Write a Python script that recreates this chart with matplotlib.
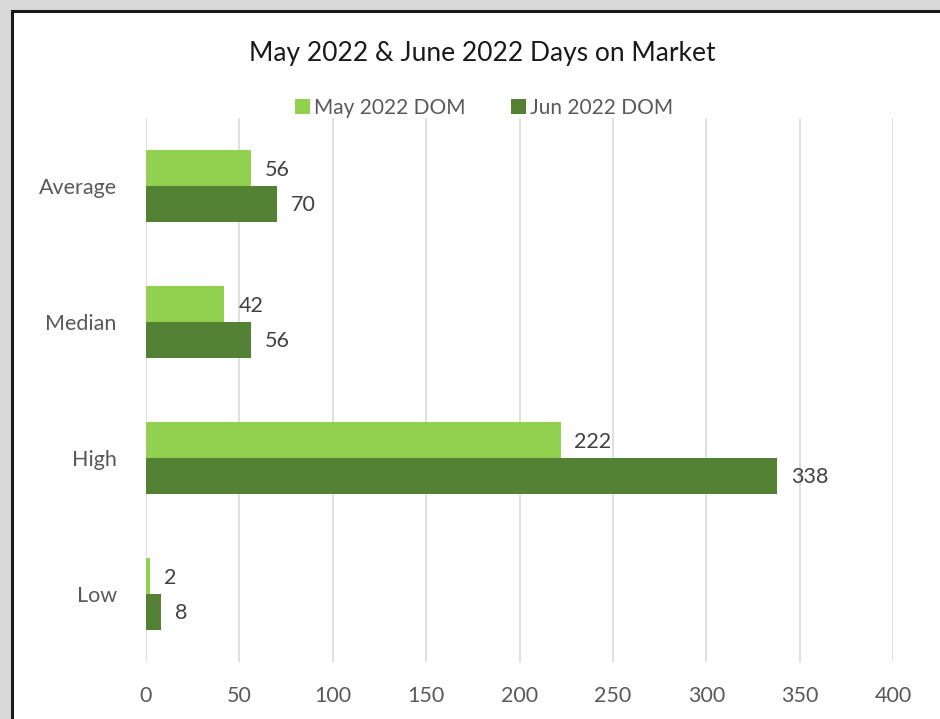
import matplotlib
matplotlib.use('Agg')
import matplotlib.pyplot as plt
import matplotlib.patches as mpatches
import numpy as np

# --- data ---
categories = ["Average", "Median", "High", "Low"]
may_dom = [56, 42, 222, 2]
jun_dom = [70, 56, 338, 8]
x_ticks = [0, 50, 100, 150, 200, 250, 300, 350, 400]

MAY_COLOR = "#92D050"
JUN_COLOR = "#548235"
TEXT_COLOR = "#404040"
TICK_COLOR = "#595959"
FS = 15.5

plt.rcParams['font.family'] = ['Lato', 'DejaVu Sans']

W, H = 940, 719
fig = plt.figure(figsize=(W / 100, H / 100), dpi=100, facecolor="#d9d9d9")

# white chart area with dark border (cut off at right/bottom)
fig.patches.append(mpatches.Rectangle((11.5 / W, -0.01), 1.0, 1 - 10.5 / H + 0.01,
                                      transform=fig.transFigure, facecolor="white",
                                      edgecolor="#1a1a1a", linewidth=2.2, zorder=-5))

ax = fig.add_axes([146 / W, 1 - 662 / H, (893 - 146) / W, (662 - 118) / H])
ax.set_facecolor("none")

y = np.arange(len(categories))
h = 0.265
ax.barh(y - h / 2, may_dom, height=h, color=MAY_COLOR, label="May 2022 DOM", zorder=3)
ax.barh(y + h / 2, jun_dom, height=h, color=JUN_COLOR, label="Jun 2022 DOM", zorder=3)

# data labels just past the bar ends
for yi, v in zip(y, may_dom):
    ax.annotate(str(v), (v, yi - h / 2), xytext=(10, -1.5), textcoords="offset points",
                va="center", ha="left", fontsize=FS, color=TEXT_COLOR)
for yi, v in zip(y, jun_dom):
    ax.annotate(str(v), (v, yi + h / 2), xytext=(10, -1), textcoords="offset points",
                va="center", ha="left", fontsize=FS, color=TEXT_COLOR)

ax.set_xlim(0, 400)
ax.set_ylim(3.5, -0.5)
ax.set_xticks(x_ticks)
ax.set_yticks(y)
ax.set_yticklabels(categories)
ax.xaxis.grid(True, color="#d9d9d9", linewidth=1.2, zorder=0)
for s in ax.spines.values():
    s.set_visible(False)
ax.tick_params(axis="both", length=0, labelsize=FS, colors=TICK_COLOR)
ax.tick_params(axis="x", pad=17)
ax.tick_params(axis="y", pad=21)

fig.text(482 / W, 1 - 54 / H, "May 2022 & June 2022 Days on Market", ha="center", va="center",
         fontsize=19, color="#1a1a1a")

leg = fig.legend(loc="center", bbox_to_anchor=(484 / W, 1 - 108 / H), ncol=2, frameon=False,
                 fontsize=15, handlelength=0.7, handleheight=0.7, handletextpad=0.2,
                 columnspacing=2.2)
for t in leg.get_texts():
    t.set_color(TICK_COLOR)

fig.savefig("out.png", dpi=100, facecolor=fig.get_facecolor())
